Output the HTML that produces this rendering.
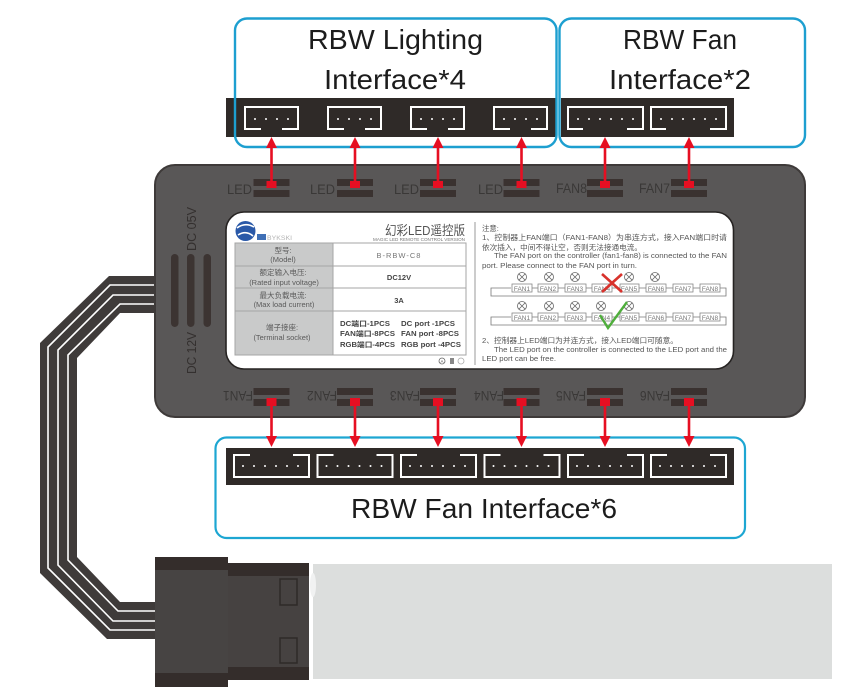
<!DOCTYPE html>
<html lang="en">
<head>
<meta charset="utf-8">
<title>RBW controller diagram</title>
<style>
html,body{margin:0;padding:0;background:#fff;width:850px;height:689px;overflow:hidden}
svg{display:block}
text{font-family:"Liberation Sans","Noto Sans CJK SC",sans-serif}
</style>
</head>
<body>
<svg width="850" height="689" viewBox="0 0 850 689" xmlns="http://www.w3.org/2000/svg">
<defs>
  <g id="led">
    <path d="M17 23H1V1H54V23H38" fill="none" stroke="#fff" stroke-width="2"/>
    <g fill="#fff"><circle cx="11" cy="13" r="1"/><circle cx="22" cy="13" r="1"/><circle cx="33" cy="13" r="1"/><circle cx="44" cy="13" r="1"/></g>
  </g>
  <g id="fantop">
    <path d="M16 23H1V1H76V23H60" fill="none" stroke="#fff" stroke-width="2"/>
    <g fill="#fff"><circle cx="11" cy="13" r="1"/><circle cx="22" cy="13" r="1"/><circle cx="33" cy="13" r="1"/><circle cx="44" cy="13" r="1"/><circle cx="55" cy="13" r="1"/><circle cx="66" cy="13" r="1"/></g>
  </g>
  <g id="fanbot">
    <path d="M17 1H1V23H76V1H60" fill="none" stroke="#fff" stroke-width="2"/>
    <g fill="#fff"><circle cx="10" cy="12" r="1"/><circle cx="21" cy="12" r="1"/><circle cx="32" cy="12" r="1"/><circle cx="43" cy="12" r="1"/><circle cx="54" cy="12" r="1"/><circle cx="65" cy="12" r="1"/></g>
  </g>
  <g id="slot" fill="#3a3230">
    <rect x="-18" y="0" width="36" height="7"/>
    <rect x="-18" y="11" width="36" height="7"/>
  </g>
  <g id="arrowUp" fill="#e60f22">
    <rect x="-5" y="43" width="10" height="7"/>
    <rect x="-1.3" y="8" width="2.6" height="38"/>
    <path d="M0 -1L5.5 10H-5.5Z"/>
  </g>
  <g id="arrowDown" fill="#e60f22">
    <rect x="-5" y="0" width="10" height="8"/>
    <rect x="-1.3" y="5" width="2.6" height="36"/>
    <path d="M0 49L5.5 38H-5.5Z"/>
  </g>
  <g id="lamp" fill="none" stroke="#666" stroke-width=".8">
    <circle r="4.5"/><path d="M-3 -3L3 3M3 -3L-3 3"/>
  </g>
</defs>

<!-- cable -->
<path d="M156 276H109L40 343V573L107 639H156V602H120L77 557V358L120 313H156Z" fill="#3f3b3a"/>
<g fill="none" stroke="#fff" stroke-width="1.6">
  <path d="M156 285H110L48 347V568L110 630H156"/>
  <path d="M156 295H113L58 350V565L113 621H156"/>
  <path d="M156 304H120L68 355V560L118 611H156"/>
</g>

<!-- molex connector -->
<rect x="313" y="564" width="519" height="115" fill="#dcdedd"/>
<ellipse cx="313" cy="585" rx="3" ry="12" fill="#f1f2f2"/>
<rect x="228" y="563" width="81" height="117" fill="#464241"/>
<rect x="228" y="563" width="81" height="13" fill="#342d2b"/>
<rect x="228" y="667" width="81" height="13" fill="#342d2b"/>
<rect x="155" y="557" width="73" height="130" fill="#474443"/>
<rect x="155" y="557" width="73" height="13" fill="#342d2b"/>
<rect x="155" y="673" width="73" height="14" fill="#342d2b"/>
<rect x="280" y="579" width="17" height="26" fill="none" stroke="#2f2a29" stroke-width="1.5"/>
<rect x="280" y="638" width="17" height="25" fill="none" stroke="#2f2a29" stroke-width="1.5"/>

<!-- top strip -->
<rect x="226" y="98" width="508" height="39" fill="#2f2a28"/>
<use href="#led" x="244" y="106"/>
<use href="#led" x="327" y="106"/>
<use href="#led" x="410" y="106"/>
<use href="#led" x="493" y="106"/>
<use href="#fantop" x="567" y="106"/>
<use href="#fantop" x="650" y="106"/>
<rect x="556" y="98" width="5" height="39" fill="#fff"/>

<!-- blue frames top -->
<rect x="235" y="18.500" width="321.500" height="128.500" rx="12" fill="none" stroke="#1d9fd0" stroke-width="2.4"/>
<rect x="559.500" y="18.500" width="245.500" height="128.500" rx="12" fill="none" stroke="#1d9fd0" stroke-width="2.4"/>

<g font-size="28" fill="#1c1c1c">
  <text x="308" y="49" textLength="175" lengthAdjust="spacingAndGlyphs">RBW Lighting</text>
  <text x="324" y="89" textLength="142" lengthAdjust="spacingAndGlyphs">Interface*4</text>
  <text x="623" y="49" textLength="114" lengthAdjust="spacingAndGlyphs">RBW Fan</text>
  <text x="609" y="89" textLength="142" lengthAdjust="spacingAndGlyphs">Interface*2</text>
  <text x="351" y="518" textLength="266" lengthAdjust="spacingAndGlyphs">RBW Fan Interface*6</text>
</g>

<!-- controller body -->
<rect x="155" y="165" width="650" height="252" rx="20" fill="#595757" stroke="#3e3a39" stroke-width="2"/>

<g fill="#3c3432">
  <rect x="171" y="254" width="7.500" height="73" rx="3.700"/>
  <rect x="187" y="254" width="7.500" height="73" rx="3.700"/>
  <rect x="203.500" y="254" width="7.500" height="73" rx="3.700"/>
</g>
<g font-size="13" fill="#34302f">
  <text transform="translate(196,251) rotate(-90)" textLength="44" lengthAdjust="spacingAndGlyphs">DC 05V</text>
  <text transform="translate(196,374) rotate(-90)" textLength="42" lengthAdjust="spacingAndGlyphs">DC 12V</text>
</g>

<!-- slots -->
<use href="#slot" x="271.500" y="179"/>
<use href="#slot" x="355" y="179"/>
<use href="#slot" x="438" y="179"/>
<use href="#slot" x="521.500" y="179"/>
<use href="#slot" x="605" y="179"/>
<use href="#slot" x="689" y="179"/>
<use href="#slot" x="271.500" y="388"/>
<use href="#slot" x="355" y="388"/>
<use href="#slot" x="438" y="388"/>
<use href="#slot" x="521.500" y="388"/>
<use href="#slot" x="605" y="388"/>
<use href="#slot" x="689" y="388"/>

<g font-size="13.500" fill="#3a3837">
  <text x="227" y="194" textLength="25" lengthAdjust="spacingAndGlyphs">LED</text>
  <text x="310" y="194" textLength="25" lengthAdjust="spacingAndGlyphs">LED</text>
  <text x="394" y="194" textLength="25" lengthAdjust="spacingAndGlyphs">LED</text>
  <text x="478" y="194" textLength="25" lengthAdjust="spacingAndGlyphs">LED</text>
  <text x="556" y="193" textLength="31" lengthAdjust="spacingAndGlyphs">FAN8</text>
  <text x="639" y="193" textLength="31" lengthAdjust="spacingAndGlyphs">FAN7</text>
  <text transform="rotate(180 253 391)" x="253" y="391" textLength="30" lengthAdjust="spacingAndGlyphs">FAN1</text>
  <text transform="rotate(180 337 391)" x="337" y="391" textLength="30" lengthAdjust="spacingAndGlyphs">FAN2</text>
  <text transform="rotate(180 420 391)" x="420" y="391" textLength="30" lengthAdjust="spacingAndGlyphs">FAN3</text>
  <text transform="rotate(180 504 391)" x="504" y="391" textLength="30" lengthAdjust="spacingAndGlyphs">FAN4</text>
  <text transform="rotate(180 586 391)" x="586" y="391" textLength="30" lengthAdjust="spacingAndGlyphs">FAN5</text>
  <text transform="rotate(180 670 391)" x="670" y="391" textLength="30" lengthAdjust="spacingAndGlyphs">FAN6</text>
</g>

<!-- white label -->
<rect x="226" y="212" width="507.500" height="157" rx="18" fill="#fff" stroke="#262322" stroke-width="1.600"/>

<!-- logo -->
<circle cx="245.500" cy="231" r="10" fill="#2a59a8"/>
<path d="M237 228Q245 222 254 227M238 235Q246 230 253 236" fill="none" stroke="#fff" stroke-width="1.600"/>
<rect x="257" y="234" width="9" height="6" fill="#3f6fb5"/>
<text x="267" y="240" font-size="6.500" fill="#b5b5b5" textLength="25" lengthAdjust="spacingAndGlyphs">BYKSKI</text>
<text x="385" y="235" font-size="13" fill="#555" textLength="80" lengthAdjust="spacingAndGlyphs">幻彩LED遥控版</text>
<text x="373" y="241" font-size="4.500" fill="#777" textLength="92" lengthAdjust="spacingAndGlyphs">MAGIC LED REMOTE CONTROL VERSION</text>

<!-- table -->
<rect x="235" y="243" width="98" height="112" fill="#c9caca"/>
<rect x="235" y="243" width="231" height="112" fill="none" stroke="#a5a5a5" stroke-width="1"/>
<path d="M333 243V355M235 266H466M235 288H466M235 311H466" stroke="#a5a5a5" stroke-width="1" fill="none"/>
<g font-size="7.500" fill="#5a5a5a" text-anchor="middle">
  <text x="283" y="253">型号:</text>
  <text x="283" y="262">(Model)</text>
  <text x="283" y="275">额定输入电压:</text>
  <text x="284" y="285">(Rated input voltage)</text>
  <text x="283" y="298">最大负载电流:</text>
  <text x="284" y="307">(Max load current)</text>
  <text x="282" y="330">端子接座:</text>
  <text x="282" y="340">(Terminal socket)</text>
  <text x="399" y="258" fill="#777" letter-spacing="1">B-RBW-C8</text>
</g>
<g font-size="7.500" fill="#444" font-weight="bold">
  <text x="399" y="280" text-anchor="middle">DC12V</text>
  <text x="399" y="303" text-anchor="middle">3A</text>
  <text x="340" y="326" font-size="7" textLength="50" lengthAdjust="spacingAndGlyphs">DC端口-1PCS</text>
  <text x="340" y="336" font-size="7" textLength="55" lengthAdjust="spacingAndGlyphs">FAN端口-8PCS</text>
  <text x="340" y="347" font-size="7" textLength="55" lengthAdjust="spacingAndGlyphs">RGB端口-4PCS</text>
  <text x="401" y="326" font-size="7" textLength="54" lengthAdjust="spacingAndGlyphs">DC port -1PCS</text>
  <text x="401" y="336" font-size="7" textLength="58" lengthAdjust="spacingAndGlyphs">FAN port -8PCS</text>
  <text x="401" y="347" font-size="7" textLength="60" lengthAdjust="spacingAndGlyphs">RGB port -4PCS</text>
</g>
<circle cx="442" cy="361" r="3" fill="none" stroke="#666" stroke-width=".8"/>
<text x="440.500" y="363" font-size="4.500" fill="#555">A</text>
<rect x="450" y="358" width="4" height="6" fill="#888"/>
<circle cx="461" cy="361" r="3" fill="none" stroke="#aaa" stroke-width=".8"/>

<!-- divider -->
<path d="M475 222V365" stroke="#9a9a9a" stroke-width="1"/>

<!-- notes -->
<g font-size="7.400" fill="#555">
  <text x="482" y="231">注意:</text>
  <text x="482" y="240" textLength="245" lengthAdjust="spacingAndGlyphs">1、控制器上FAN端口（FAN1-FAN8）为串连方式，接入FAN端口时请</text>
  <text x="482" y="250" textLength="160" lengthAdjust="spacingAndGlyphs">依次插入，中间不得让空，否则无法接通电流。</text>
  <text x="494" y="258" textLength="233" lengthAdjust="spacingAndGlyphs">The FAN port on the controller (fan1-fan8) is connected to the FAN</text>
  <text x="482" y="268" textLength="155" lengthAdjust="spacingAndGlyphs">port. Please connect to the FAN port in turn.</text>
  <text x="482" y="343" textLength="196" lengthAdjust="spacingAndGlyphs">2、控制器上LED端口为并连方式，接入LED端口可随意。</text>
  <text x="494" y="352" textLength="233" lengthAdjust="spacingAndGlyphs">The LED port on the controller is connected to the LED port and the</text>
  <text x="482" y="361" textLength="74" lengthAdjust="spacingAndGlyphs">LED port can be free.</text>
</g>

<!-- series diagrams -->
<g fill="none" stroke="#777" stroke-width=".8">
  <path d="M511 288H491V296H726V288H720"/>
  <path d="M511 317H491V325H726V317H720"/>
  <path d="M532 288H538M558 288H565M586 288H592M612 288H620M639 288H646M666 288H673M693 288H700"/>
  <path d="M532 317H538M558 317H565M586 317H592M612 317H620M639 317H646M666 317H673M693 317H700"/>
</g>
<g fill="#fff" stroke="#888" stroke-width=".8">
  <rect x="512" y="284" width="20" height="8"/><rect x="538" y="284" width="20" height="8"/><rect x="565" y="284" width="21" height="8"/><rect x="592" y="284" width="20" height="8"/><rect x="620" y="284" width="19" height="8"/><rect x="646" y="284" width="20" height="8"/><rect x="673" y="284" width="20" height="8"/><rect x="700" y="284" width="20" height="8"/>
  <rect x="512" y="313" width="20" height="8"/><rect x="538" y="313" width="20" height="8"/><rect x="565" y="313" width="21" height="8"/><rect x="592" y="313" width="20" height="8"/><rect x="620" y="313" width="19" height="8"/><rect x="646" y="313" width="20" height="8"/><rect x="673" y="313" width="20" height="8"/><rect x="700" y="313" width="20" height="8"/>
</g>
<g font-size="6.500" fill="#777" text-anchor="middle">
  <text x="522" y="291">FAN1</text><text x="548" y="291">FAN2</text><text x="575" y="291">FAN3</text><text x="602" y="291">FAN4</text><text x="629" y="291">FAN5</text><text x="656" y="291">FAN6</text><text x="683" y="291">FAN7</text><text x="710" y="291">FAN8</text>
  <text x="522" y="320">FAN1</text><text x="548" y="320">FAN2</text><text x="575" y="320">FAN3</text><text x="602" y="320">FAN4</text><text x="629" y="320">FAN5</text><text x="656" y="320">FAN6</text><text x="683" y="320">FAN7</text><text x="710" y="320">FAN8</text>
</g>
<use href="#lamp" x="522" y="277"/><use href="#lamp" x="549" y="277"/><use href="#lamp" x="575" y="277"/><use href="#lamp" x="629" y="277"/><use href="#lamp" x="655" y="277"/>
<use href="#lamp" x="522" y="306"/><use href="#lamp" x="549" y="306"/><use href="#lamp" x="575" y="306"/><use href="#lamp" x="601" y="306"/><use href="#lamp" x="629" y="306"/>
<path d="M602 274L622 292M622 274L602 292" stroke="#d8322c" stroke-width="2.600" fill="none"/>
<path d="M600 315L608 328L627 302" stroke="#4fae3c" stroke-width="2.400" fill="none"/>

<!-- bottom strip and frame -->
<rect x="215.500" y="437.500" width="529.500" height="100.500" rx="11" fill="#fff" stroke="#1da6d2" stroke-width="2.200"/>
<rect x="226" y="448" width="508" height="37" fill="#2f2a28"/>
<use href="#fanbot" x="233" y="454"/>
<use href="#fanbot" x="316.500" y="454"/>
<use href="#fanbot" x="400" y="454"/>
<use href="#fanbot" x="483.500" y="454"/>
<use href="#fanbot" x="567" y="454"/>
<use href="#fanbot" x="650" y="454"/>
<text x="351" y="518" font-size="28" fill="#1c1c1c" textLength="266" lengthAdjust="spacingAndGlyphs">RBW Fan Interface*6</text>

<!-- arrows -->
<use href="#arrowUp" x="271.500" y="138"/>
<use href="#arrowUp" x="355" y="138"/>
<use href="#arrowUp" x="438" y="138"/>
<use href="#arrowUp" x="521.500" y="138"/>
<use href="#arrowUp" x="605" y="138"/>
<use href="#arrowUp" x="689" y="138"/>
<use href="#arrowDown" x="271.500" y="398"/>
<use href="#arrowDown" x="355" y="398"/>
<use href="#arrowDown" x="438" y="398"/>
<use href="#arrowDown" x="521.500" y="398"/>
<use href="#arrowDown" x="605" y="398"/>
<use href="#arrowDown" x="689" y="398"/>
</svg>
</body>
</html>
